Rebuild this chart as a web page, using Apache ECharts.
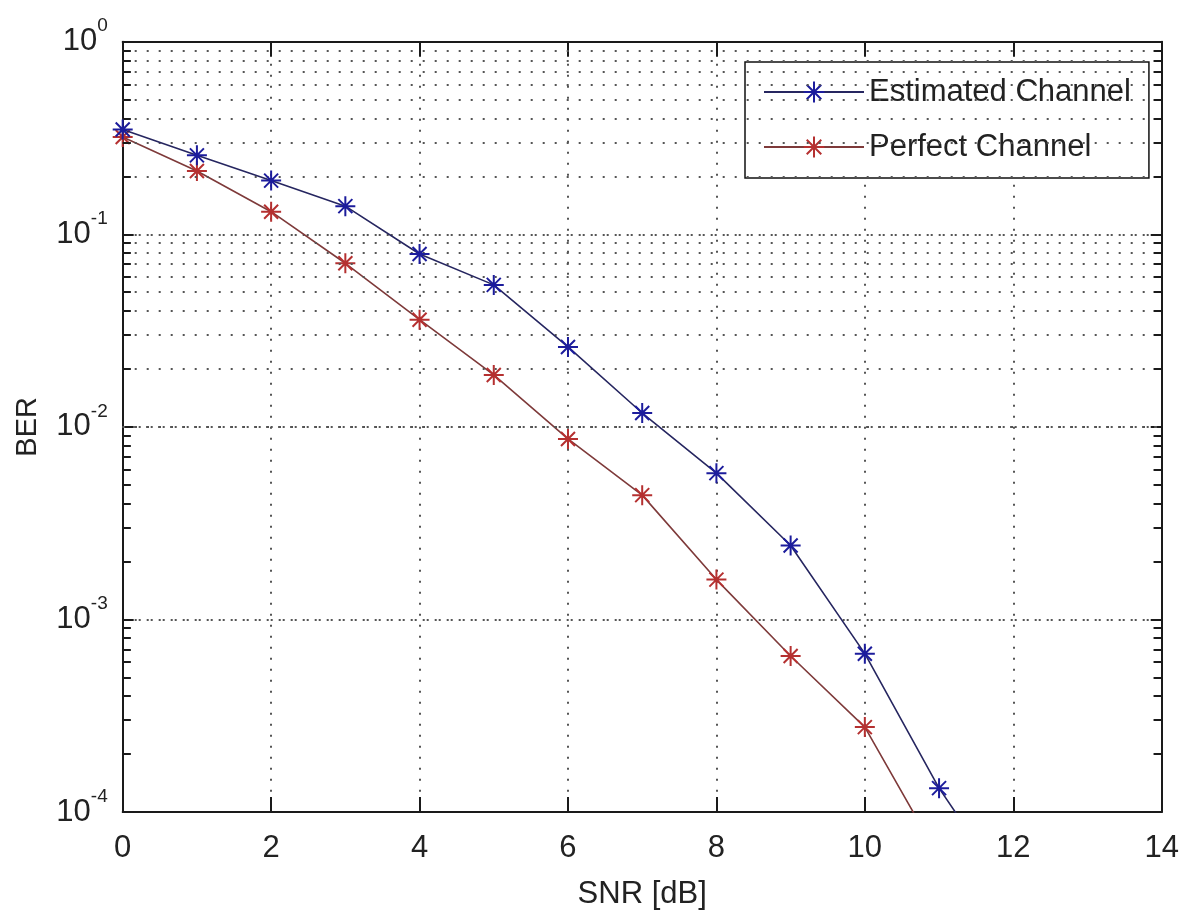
<!DOCTYPE html>
<html><head><meta charset="utf-8">
<script src="https://cdn.jsdelivr.net/npm/echarts@6/dist/echarts.min.js"></script>
<style>html,body{margin:0;padding:0;background:#fff}#c{width:1187px;height:916px}</style>
</head><body><div id="c"></div>
<script>
// ---- data ----
const estimatedSnr = [0, 1, 2, 3, 4, 5, 6, 7, 8, 9, 10, 11, 12];
const estimatedBER = [0.35, 0.257, 0.19, 0.14, 0.079, 0.0546, 0.026, 0.0118, 0.00575, 0.00242, 0.000664, 0.000133, 0.000036];
const perfectSnr = [0, 1, 2, 3, 4, 5, 6, 7, 8, 9, 10, 11];
const perfectBER = [0.32, 0.213, 0.131, 0.0707, 0.036, 0.0186, 0.00865, 0.00442, 0.00161, 0.000646, 0.000276, 0.000058];
const seriesNames = ['Estimated Channel', 'Perfect Channel'];
const xTickValues = [0, 2, 4, 6, 8, 10, 12, 14];
const yDecades = [0.0001, 0.001, 0.01, 0.1, 1];
const minorMultipliers = [2, 3, 4, 5, 6, 7, 8, 9];
const xAxisTitle = 'SNR [dB]';
const yAxisTitle = 'BER';

const FONT = '"Liberation Sans", Arial, sans-serif';
const TXT = '#222';

const minorGridValues = [];
yDecades.slice(0, 4).forEach(d => minorMultipliers.forEach(m => minorGridValues.push(m * d)));

const xMin = xTickValues[0], xMax = xTickValues[xTickValues.length - 1];
const yMin = yDecades[0], yMax = yDecades[yDecades.length - 1];

const STAR = 'path://M10,0L10,20M0,10L20,10M3,3L17,17M3,17L17,3';
const blueLine = '#262660', blueMark = '#1c1c9c';
const redLine = '#7e3a3a', redMark = '#b53030';

const chart = echarts.init(document.getElementById('c'), null, {renderer: 'canvas'});

const minorTickData = [];
minorGridValues.forEach(v => {
  minorTickData.push([{xAxis: xMin, yAxis: v}, {xAxis: xMin + 0.11, yAxis: v}]);
  minorTickData.push([{xAxis: xMax - 0.11, yAxis: v}, {xAxis: xMax, yAxis: v}]);
});

const axisLineStyle = {color: '#1a1a1a', width: 2};

chart.setOption({
  animation: false,
  backgroundColor: '#fff',
  grid: {left: 122.7, right: 25.3, top: 41.7, bottom: 104, containLabel: false},
  legend: {
    orient: 'vertical', left: 745, top: 62,
    padding: [12, 18, 13, 18],
    itemWidth: 100, itemHeight: 26, itemGap: 19,
    backgroundColor: '#fff', borderColor: '#111', borderWidth: 1.5,
    textStyle: {fontFamily: FONT, fontSize: 31, lineHeight: 36, color: TXT},
    data: [
      {name: seriesNames[0], itemStyle: {color: blueMark, borderColor: blueMark, borderWidth: 2}},
      {name: seriesNames[1], itemStyle: {color: redMark, borderColor: redMark, borderWidth: 2}}
    ]
  },
  xAxis: [{
    type: 'value', min: xMin, max: xMax, interval: 2, position: 'bottom',
    name: xAxisTitle, nameLocation: 'middle', nameGap: 67,
    nameTextStyle: {fontFamily: FONT, fontSize: 31, color: TXT},
    axisLine: {show: true, onZero: false, lineStyle: axisLineStyle},
    axisTick: {show: true, inside: true, length: 15, lineStyle: {color: '#1a1a1a', width: 2}},
    axisLabel: {fontFamily: FONT, fontSize: 31, color: TXT, margin: 21},
    splitLine: {show: true, lineStyle: {type: [2, 9], color: '#555', width: 2}}
  }, {
    type: 'value', min: xMin, max: xMax, interval: 2, position: 'top',
    axisLine: {show: true, onZero: false, lineStyle: axisLineStyle},
    axisTick: {show: true, inside: true, length: 15, lineStyle: {color: '#1a1a1a', width: 2}},
    axisLabel: {show: false}, splitLine: {show: false}
  }],
  yAxis: [{
    type: 'log', logBase: 10, min: yMin, max: yMax, splitNumber: 4, position: 'left',
    name: yAxisTitle, nameLocation: 'middle', nameGap: 80,
    nameTextStyle: {fontFamily: FONT, fontSize: 29, color: TXT},
    axisLine: {show: true, onZero: false, lineStyle: axisLineStyle},
    axisTick: {show: true, inside: true, length: 11, lineStyle: {color: '#1a1a1a', width: 2}},
    axisLabel: {
      margin: 15,
      formatter: v => '{b|10}{s|' + Math.round(Math.log10(v)) + '}',
      rich: {
        b: {fontFamily: FONT, fontSize: 31, color: TXT, lineHeight: 50},
        s: {fontFamily: FONT, fontSize: 19, color: TXT, lineHeight: 20, verticalAlign: 'top'}
      }
    },
    splitLine: {show: true, lineStyle: {type: [2, 2, 2, 6], color: '#555', width: 2}}
  }, {
    type: 'log', logBase: 10, min: yMin, max: yMax, splitNumber: 4, position: 'right',
    axisLine: {show: true, onZero: false, lineStyle: axisLineStyle},
    axisTick: {show: true, inside: true, length: 11, lineStyle: {color: '#1a1a1a', width: 2}},
    axisLabel: {show: false}, splitLine: {show: false}
  }],
  series: [{
    type: 'line', name: '_grid', data: [], silent: true, z: 1,
    markLine: {
      silent: true, symbol: ['none', 'none'], label: {show: false}, animation: false,
      lineStyle: {type: [2, 10], color: '#555', width: 2},
      emphasis: {disabled: true},
      data: minorGridValues.map(v => ({yAxis: v}))
    }
  }, {
    type: 'line', name: '_ticks', data: [], silent: true, z: 2,
    markLine: {
      silent: true, symbol: ['none', 'none'], label: {show: false}, animation: false,
      lineStyle: {type: 'solid', color: '#1a1a1a', width: 2},
      emphasis: {disabled: true},
      data: minorTickData
    }
  }, {
    type: 'line', name: seriesNames[0], z: 5, clip: true,
    data: estimatedSnr.map((x, i) => [x, estimatedBER[i]]),
    symbol: STAR, symbolSize: 20,
    lineStyle: {color: blueLine, width: 1.6},
    itemStyle: {color: blueMark, borderColor: blueMark, borderWidth: 2}
  }, {
    type: 'line', name: seriesNames[1], z: 4, clip: true,
    data: perfectSnr.map((x, i) => [x, perfectBER[i]]),
    symbol: STAR, symbolSize: 20,
    lineStyle: {color: redLine, width: 1.6},
    itemStyle: {color: redMark, borderColor: redMark, borderWidth: 2}
  }]
});
</script>
</body></html>
